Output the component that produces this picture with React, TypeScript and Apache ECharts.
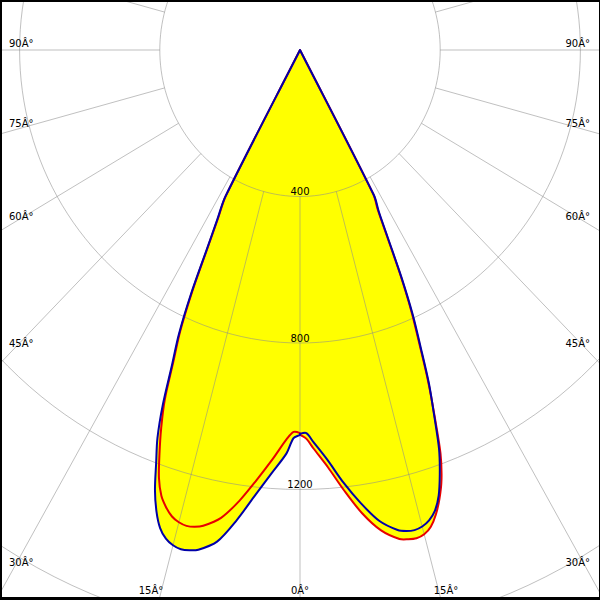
import React, { useEffect, useRef } from 'react';
import * as echarts from 'echarts';

// Gamma angles (degrees from nadir) at which the intensities are read
const ANGLES = [0, 1, 2, 4, 6, 8, 10, 12, 13, 14, 15, 16, 17, 18, 19, 20, 21, 22, 23, 24, 25, 26, 27, 28, 29];
// Luminous intensity (cd) — blue curve, left / right half
const BLUE_LEFT = [1051, 1060, 1102, 1158, 1222, 1296, 1363, 1395, 1402, 1405, 1400, 1388, 1365, 1325, 1271, 1200, 1135, 1045, 935, 850, 738, 610, 520, 455, 0];
const BLUE_RIGHT = [1048, 1046, 1070, 1122, 1188, 1250, 1306, 1340, 1348, 1351, 1347, 1336, 1316, 1280, 1225, 1160, 1068, 982, 880, 790, 685, 575, 495, 450, 0];
// Red curve, left / right half
const RED_LEFT = [1046, 1043, 1062, 1120, 1180, 1243, 1297, 1328, 1336, 1339, 1335, 1325, 1306, 1280, 1236, 1172, 1105, 1030, 925, 840, 728, 603, 514, 450, 0];
const RED_RIGHT = [1050, 1062, 1088, 1142, 1210, 1278, 1332, 1365, 1371, 1374, 1369, 1354, 1326, 1288, 1240, 1172, 1072, 976, 872, 782, 678, 568, 488, 446, 0];

const RING_VALUES = [400, 800, 1200, 1600];
const RING_LABELS = ['400', '800', '1200'];
const SPOKE_ANGLES = [0, 15, 30, 45, 60, 75, 90, 105, 120, 135, 150, 165, 180, 195, 210, 225, 240, 255, 270, 285, 300, 315, 330, 345];
const LEFT_ANGLE_LABELS = ['90Â°', '75Â°', '60Â°', '45Â°', '30Â°'];
const RIGHT_ANGLE_LABELS = ['90Â°', '75Â°', '60Â°', '45Â°', '30Â°'];
const BOTTOM_ANGLE_LABELS = ['15Â°', '0Â°', '15Â°'];

// Layout (pixels)
const W = 600;
const H = 600;
const CX = 300;
const CY = 50;
const PX_PER_CD_Y = 146.5 / 400;
const PX_PER_CD_X = 0.3505;
const X_HALF = CX / PX_PER_CD_X;
const Y_MAX = CY / PX_PER_CD_Y;
const Y_MIN = -(H - CY) / PX_PER_CD_Y;

const SIDE_LABEL_Y = [43, 123, 216, 343, 562];
const BOTTOM_LABEL_X = [151, 300, 446];
const BOTTOM_LABEL_Y = 590;

const GRID_COLOR = 'rgba(140,140,140,0.55)';
const FONT = '10px "DejaVu Sans", sans-serif';
const SMOOTH = 0.3;

function toXY(angleDeg: number, I: number): [number, number] {
  const t = (angleDeg * Math.PI) / 180;
  return [I * Math.sin(t), -I * Math.cos(t)];
}

function curve(left: number[], right: number[]): [number, number][] {
  const pts: [number, number][] = [];
  for (let i = ANGLES.length - 1; i >= 0; i--) pts.push(toXY(-ANGLES[i], left[i]));
  for (let i = 0; i < ANGLES.length; i++) pts.push(toXY(ANGLES[i], right[i]));
  return pts;
}

export default function App() {
  const ref = useRef<HTMLDivElement>(null);

  useEffect(() => {
    if (!ref.current) return;
    const chart = echarts.init(ref.current, undefined, { renderer: 'svg' });
    const bluePts = curve(BLUE_LEFT, BLUE_RIGHT);
    const redPts = curve(RED_LEFT, RED_RIGHT);

    const shapeSeries = (pts: [number, number][], z: number, style: any) => ({
      type: 'custom',
      coordinateSystem: 'cartesian2d',
      silent: true,
      z,
      data: [[0, 0]],
      renderItem: (_p: any, api: any) => ({
        type: 'polygon',
        shape: { points: pts.map((p) => api.coord(p)), smooth: SMOOTH },
        style,
      }),
    });

    const graphic: any[] = [];
    LEFT_ANGLE_LABELS.forEach((t, i) => {
      graphic.push({ type: 'text', x: 9, y: SIDE_LABEL_Y[i], z: 10, style: { text: t, font: FONT, fill: '#000', align: 'left', verticalAlign: 'middle' } });
    });
    RIGHT_ANGLE_LABELS.forEach((t, i) => {
      graphic.push({ type: 'text', x: 590, y: SIDE_LABEL_Y[i], z: 10, style: { text: t, font: FONT, fill: '#000', align: 'right', verticalAlign: 'middle' } });
    });
    BOTTOM_ANGLE_LABELS.forEach((t, i) => {
      graphic.push({ type: 'text', x: BOTTOM_LABEL_X[i], y: BOTTOM_LABEL_Y, z: 10, style: { text: t, font: FONT, fill: '#000', align: 'center', verticalAlign: 'middle' } });
    });
    // frame
    graphic.push({ type: 'rect', z: 20, shape: { x: 0, y: 0, width: W, height: 2 }, style: { fill: '#000' } });
    graphic.push({ type: 'rect', z: 20, shape: { x: 0, y: 0, width: 2, height: H }, style: { fill: '#000' } });
    graphic.push({ type: 'rect', z: 20, shape: { x: W - 1, y: 0, width: 1, height: H }, style: { fill: '#000' } });
    graphic.push({ type: 'rect', z: 20, shape: { x: 0, y: H - 3, width: W, height: 3 }, style: { fill: '#000' } });

    chart.setOption({
      animation: false,
      backgroundColor: '#ffffff',
      grid: { left: 0, right: 0, top: 0, bottom: 0, containLabel: false },
      xAxis: { type: 'value', min: -X_HALF, max: X_HALF, show: false },
      yAxis: { type: 'value', min: Y_MIN, max: Y_MAX, show: false },
      series: [
        shapeSeries(bluePts, 1, { fill: '#ffff00', stroke: 'none' }),
        shapeSeries(redPts, 1, { fill: '#ffff00', stroke: 'none' }),
        {
          type: 'custom',
          coordinateSystem: 'cartesian2d',
          silent: true,
          z: 2,
          data: RING_VALUES.map((r) => ({ value: [0, 0, r] })),
          renderItem: (_p: any, api: any) => {
            const r = api.value(2);
            const pts: number[][] = [];
            for (let a = 0; a <= 360; a += 2) pts.push(api.coord(toXY(a, r)));
            return { type: 'polyline', shape: { points: pts }, style: { stroke: GRID_COLOR, lineWidth: 1, fill: 'none' } };
          },
        },
        {
          type: 'custom',
          coordinateSystem: 'cartesian2d',
          silent: true,
          z: 2,
          data: SPOKE_ANGLES.map((a) => ({ value: [0, 0, a] })),
          renderItem: (_p: any, api: any) => {
            const a = api.value(2);
            const p1 = api.coord(toXY(a, RING_VALUES[0]));
            const p2 = api.coord(toXY(a, 2400));
            return { type: 'line', shape: { x1: p1[0], y1: p1[1], x2: p2[0], y2: p2[1] }, style: { stroke: GRID_COLOR, lineWidth: 1 } };
          },
        },
        shapeSeries(redPts, 3, { fill: 'none', stroke: '#e80000', lineWidth: 2, lineJoin: 'round' }),
        shapeSeries(bluePts, 4, { fill: 'none', stroke: '#0000a8', lineWidth: 2, lineJoin: 'round' }),
        {
          type: 'custom',
          coordinateSystem: 'cartesian2d',
          silent: true,
          z: 5,
          data: RING_LABELS.map((t, i) => ({ value: [0, 0, RING_VALUES[i]], name: t })),
          renderItem: (p: any, api: any) => {
            const r = api.value(2);
            const c = api.coord([0, -r]);
            return {
              type: 'text',
              x: c[0],
              y: c[1],
              style: { text: RING_LABELS[p.dataIndex], font: FONT, fill: '#000', align: 'center', verticalAlign: 'bottom' },
            };
          },
        },
      ],
      graphic,
    });
    return () => chart.dispose();
  }, []);

  return <div ref={ref} style={{ position: 'fixed', left: 0, top: 0, width: W, height: H }} />;
}
